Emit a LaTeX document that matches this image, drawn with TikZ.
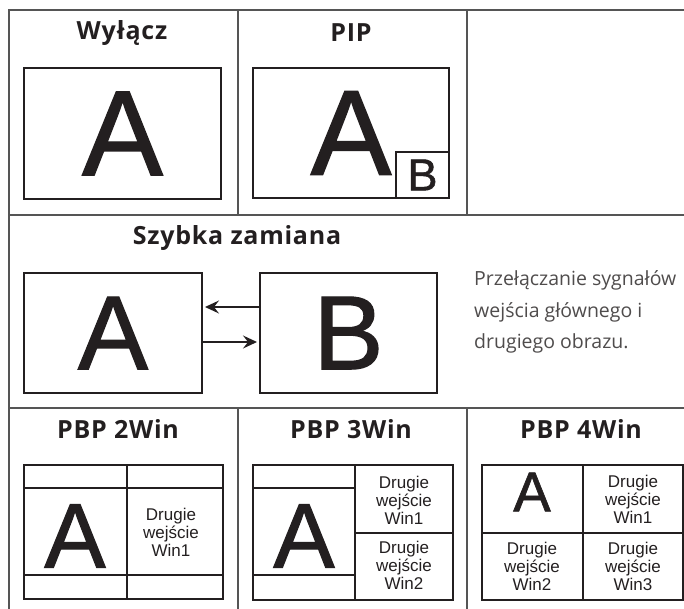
\documentclass[tikz,border=0pt]{standalone}
\usepackage{fontspec}
\setmainfont{Open Sans}
\newfontfamily\titlefont{Open Sans}[LetterSpace=3]
\newfontfamily\arial{Liberation Sans}
\newfontfamily\arialbig{Liberation Sans}[FakeBold=1.2]
\usetikzlibrary{arrows.meta}
\definecolor{rule}{HTML}{555555}
\definecolor{ink}{HTML}{231F20}

\begin{document}
\begin{tikzpicture}[x=1pt,y=-1pt,
		grid/.style={draw=rule, line width=1.6pt},
		screen/.style={draw=ink, line width=2pt, inner sep=0pt},
		pane/.style={draw=ink, line width=2pt},
		title/.style={font=\titlefont\bfseries\fontsize{25}{26}\selectfont, text=ink, inner sep=0pt},
		big/.style={font=\arialbig\fontsize{#1}{#1}\selectfont, text=ink, inner sep=0pt},
		win/.style={font=\arial\fontsize{17}{18}\selectfont, align=center, text=ink, inner sep=0pt},
		desc/.style={font=\fontsize{19.5}{31.5}\selectfont, align=left, text=ink!80, inner sep=0pt},
		swap/.style={draw=ink, line width=1.6pt, -{Stealth[length=14pt,width=13pt,inset=5pt]}, shorten >=2pt}]
		\useasboundingbox (0,0) rectangle (684,609);
		
		% table
		\draw[grid] (9,609) -- (9,10) -- (684,10);
		\draw[grid] (9,215) -- (684,215);
		\draw[grid] (9,408) -- (684,408);
		\foreach \x in {238,467} {
			\draw[grid] (\x,10) -- (\x,215);
			\draw[grid] (\x,408) -- (\x,609);
		}
		
		% Wylacz
		\node[title] (wylacz) at (122,33) {Wyłącz};
		\node[screen, minimum width=197, minimum height=131, big=121] (offA) at (122.5,133.5) {A};
		
		% PIP
		\node[title] (pip) at (351,33) {PIP};
		\node[screen, minimum width=196, minimum height=130, big=121] (pipA) at (351,133) {A};
		\node[screen, minimum width=53, minimum height=46, big=45, anchor=south east] (pipB) at (pipA.south east) {B};
		
		% Szybka zamiana
		\node[title] (swaptitle) at (237,238) {Szybka zamiana};
		\node[screen, minimum width=178, minimum height=120, big=105] (mainA) at (113,333) {A};
		\node[screen, minimum width=177, minimum height=120, big=105] (subB) at (348.5,333) {B};
		\draw[swap] ([yshift=26pt]subB.west) -- ([yshift=26pt]mainA.east);
		\draw[swap] ([yshift=-9pt]mainA.east) -- ([yshift=-9pt]subB.west);
		\node[desc, anchor=west] (swapdesc) at (474,312) {Przełączanie sygnałów\\wejścia głównego i\\drugiego obrazu.};
		
		% PBP 2Win
		\node[title] (pbptwo) at (118,429) {PBP 2Win};
		\node[screen, minimum width=199, minimum height=134] (twoWin) at (123.5,532) {};
		\draw[pane] (127,465) -- (127,599);
		\draw[pane] (24,488) -- (223,488);
		\draw[pane] (24,575) -- (223,575);
		\node[big=92] (twoA) at (75,536) {A};
		\node[win] (twoW1) at (171,532) {Drugie\\wejście\\Win1};
		
		% PBP 3Win
		\node[title] (pbpthree) at (351,429) {PBP 3Win};
		\node[screen, minimum width=200, minimum height=135] (threeWin) at (353,532.5) {};
		\draw[pane] (355,465) -- (355,600);
		\draw[pane] (253,488) -- (355,488);
		\draw[pane] (253,575) -- (355,575);
		\draw[pane] (355,533) -- (453,533);
		\node[big=92] (threeA) at (304,536) {A};
		\node[win] (threeW1) at (404,500) {Drugie\\wejście\\Win1};
		\node[win] (threeW2) at (404,565) {Drugie\\wejście\\Win2};
		
		% PBP 4Win
		\node[title] (pbpfour) at (581,429) {PBP 4Win};
		\node[screen, minimum width=201, minimum height=135] (fourWin) at (582.5,532.5) {};
		\draw[pane] (583,465) -- (583,600);
		\draw[pane] (482,533) -- (683,533);
		\node[big=56] (fourA) at (532,492) {A};
		\node[win] (fourW1) at (633,499) {Drugie\\wejście\\Win1};
		\node[win] (fourW2) at (532,566) {Drugie\\wejście\\Win2};
		\node[win] (fourW3) at (633,566) {Drugie\\wejście\\Win3};
	\end{tikzpicture}
\end{document}
